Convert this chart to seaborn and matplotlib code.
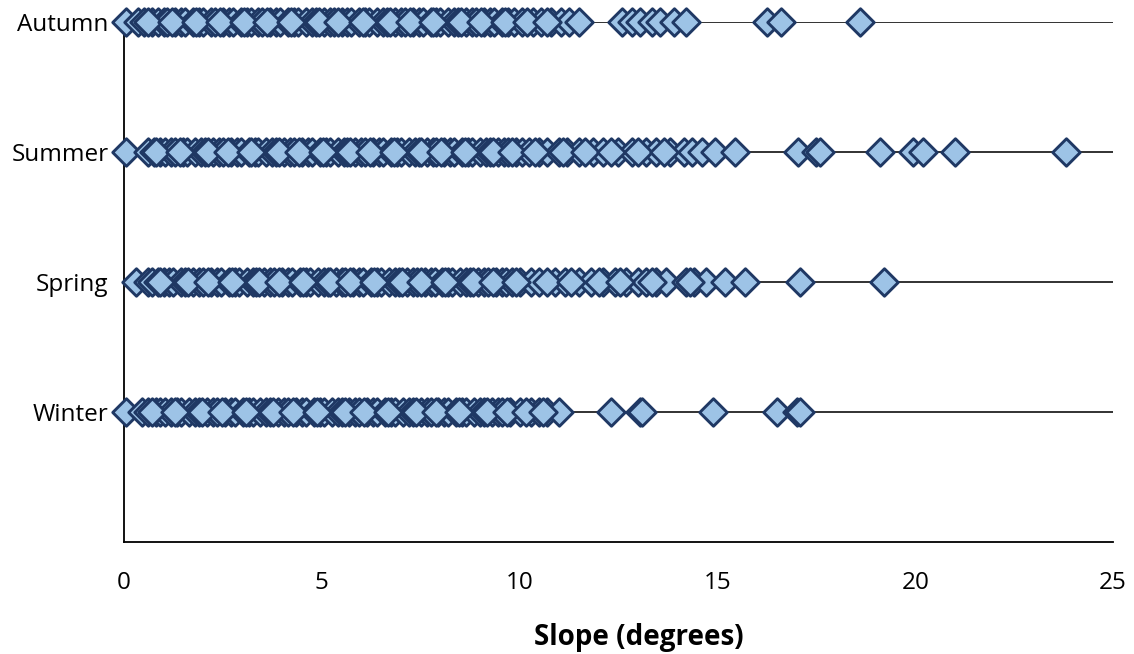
import matplotlib
matplotlib.use("Agg")
import matplotlib.pyplot as plt
import seaborn as sns
import pandas as pd

seasons = ["Autumn", "Summer", "Spring", "Winter"]

autumn = [0.05, 0.35, 0.5, 0.7, 0.85, 1.0, 1.1, 1.3, 1.45, 1.55, 1.75, 1.9, 2.0, 2.2, 2.3,
          2.5, 2.65, 2.75, 2.95, 3.1, 3.2, 3.4, 3.5, 3.7, 3.85, 3.95, 4.15, 4.3, 4.4, 4.6,
          4.75, 4.85, 5.05, 5.2, 5.3, 5.5, 5.65, 5.75, 5.95, 6.1, 6.2, 6.4, 6.55, 6.65, 6.85,
          7.0, 7.1, 7.3, 7.45, 7.55, 7.75, 7.9, 8.0, 8.2, 8.35, 8.45, 8.65, 8.8, 8.9, 9.1,
          9.25, 9.35, 9.55, 9.7, 9.85, 10.05, 10.35, 10.55, 10.8, 11.05, 11.25, 11.5,
          12.6, 12.85, 13.05, 13.35, 13.55, 13.9, 14.2, 16.25, 16.6, 18.6,
          0.62, 1.22, 1.83, 2.42, 3.03, 3.62, 4.22, 4.93, 5.42, 6.03, 6.72, 7.22, 7.82,
          8.52, 9.02, 9.62, 10.2, 10.7]
summer = [0.05, 0.6, 0.75, 0.9, 1.05, 1.2, 1.3, 1.5, 1.6, 1.8, 1.95, 2.05, 2.25, 2.4, 2.5,
          2.7, 2.85, 2.95, 3.15, 3.3, 3.4, 3.6, 3.75, 3.85, 4.05, 4.2, 4.3, 4.5, 4.65, 4.75,
          4.95, 5.1, 5.2, 5.4, 5.55, 5.65, 5.85, 6.0, 6.1, 6.3, 6.45, 6.55, 6.75, 6.9, 7.0,
          7.2, 7.35, 7.45, 7.65, 7.8, 7.9, 8.1, 8.25, 8.35, 8.55, 8.7, 8.8, 9.0, 9.15, 9.25,
          9.45, 9.6, 9.7, 9.9, 10.05, 10.25, 10.5, 10.7, 11.0, 11.2, 11.5, 11.85, 12.1,
          12.5, 12.85, 13.2, 13.45, 13.8, 14.15, 14.35, 14.6, 14.95, 15.45, 17.05, 17.5,
          17.6, 19.1, 19.95, 20.2, 21.0, 23.8,
          0.82, 1.42, 2.12, 2.62, 3.22, 3.92, 4.42, 5.02, 5.72, 6.22, 6.82, 7.52, 8.02,
          8.62, 9.32, 9.82, 10.4, 11.1, 11.65, 12.3, 13.0, 13.65]
spring = [0.3, 0.6, 0.7, 0.85, 1.0, 1.15, 1.25, 1.45, 1.55, 1.75, 1.9, 2.0, 2.2, 2.35, 2.45,
          2.65, 2.8, 2.9, 3.1, 3.25, 3.35, 3.55, 3.7, 3.8, 4.0, 4.15, 4.25, 4.45, 4.6, 4.7,
          4.9, 5.05, 5.15, 5.35, 5.5, 5.6, 5.8, 5.95, 6.05, 6.25, 6.4, 6.5, 6.7, 6.85, 6.95,
          7.15, 7.3, 7.4, 7.6, 7.75, 7.85, 8.05, 8.2, 8.3, 8.5, 8.65, 8.75, 8.95, 9.1, 9.2,
          9.4, 9.55, 9.65, 9.8, 10.0, 10.3, 10.5, 10.9, 11.15, 11.5, 11.8, 12.1, 12.4, 12.7,
          13.0, 13.2, 13.45, 13.7, 14.2, 14.4, 14.7, 15.2, 15.7, 17.1, 19.2,
          0.92, 1.62, 2.12, 2.72, 3.42, 3.92, 4.52, 5.22, 5.72, 6.32, 7.02, 7.52, 8.12,
          8.82, 9.32, 9.92, 10.7, 11.3, 12.0, 12.55, 13.35, 14.3]
winter = [0.05, 0.45, 0.6, 0.8, 0.9, 1.05, 1.2, 1.35, 1.45, 1.65, 1.8, 1.9, 2.1, 2.25, 2.35,
          2.55, 2.7, 2.8, 3.0, 3.15, 3.25, 3.45, 3.6, 3.7, 3.9, 4.05, 4.15, 4.35, 4.5, 4.6,
          4.8, 4.95, 5.05, 5.25, 5.4, 5.5, 5.7, 5.85, 5.95, 6.15, 6.3, 6.4, 6.6, 6.75, 6.85,
          7.05, 7.2, 7.3, 7.5, 7.65, 7.75, 7.95, 8.1, 8.2, 8.4, 8.55, 8.65, 8.85, 9.0, 9.1,
          9.3, 9.45, 9.55, 9.75, 10.0, 10.3, 10.5, 10.7, 11.0, 12.3, 13.05, 13.1, 14.9,
          16.5, 17.0, 17.1,
          0.72, 1.28, 1.98, 2.48, 3.08, 3.78, 4.28, 4.88, 5.58, 6.08, 6.68, 7.38, 7.88,
          8.48, 9.18, 9.68, 10.15, 10.6]

df = pd.concat([
    pd.DataFrame({"season": s, "slope": v})
    for s, v in zip(seasons, [autumn, summer, spring, winter])
], ignore_index=True)

sns.set_style("white")
plt.rcParams["font.family"] = ["Open Sans", "DejaVu Sans"]

fig = plt.figure(figsize=(11.34, 6.54), dpi=100)
ax = fig.add_axes([0.1093, 0.1713, 0.9815 - 0.1093, 0.9664 - 0.1713])

for y in range(4):
    ax.axhline(y, color="#222222", lw=1.3, zorder=0)

sns.stripplot(data=df, x="slope", y="season", order=seasons, jitter=False,
              marker="D", size=14, color="#9dc3e6", edgecolor="#1f3864",
              linewidth=2.1, ax=ax, clip_on=False, zorder=3)

ax.set_xlim(0, 25)
ax.set_ylim(4, 0)
ax.set_xticks([0, 5, 10, 15, 20, 25])
ax.set_xticklabels(["0", "5", "10", "15", "20", "25"])
ax.tick_params(axis="both", length=0, labelsize=17.5, colors="black")
ax.tick_params(axis="x", pad=21)
ax.tick_params(axis="y", pad=11)
ax.set_xlabel("Slope (degrees)", fontsize=20, fontweight="bold", labelpad=20,
              color="black")
ax.xaxis.label.set_x(0.521)
ax.set_ylabel("")
ax.grid(False)
for side in ["top", "right"]:
    ax.spines[side].set_visible(False)
for side in ["left", "bottom"]:
    ax.spines[side].set_color("black")
    ax.spines[side].set_linewidth(1.3)

fig.savefig("out.png", dpi=100)
